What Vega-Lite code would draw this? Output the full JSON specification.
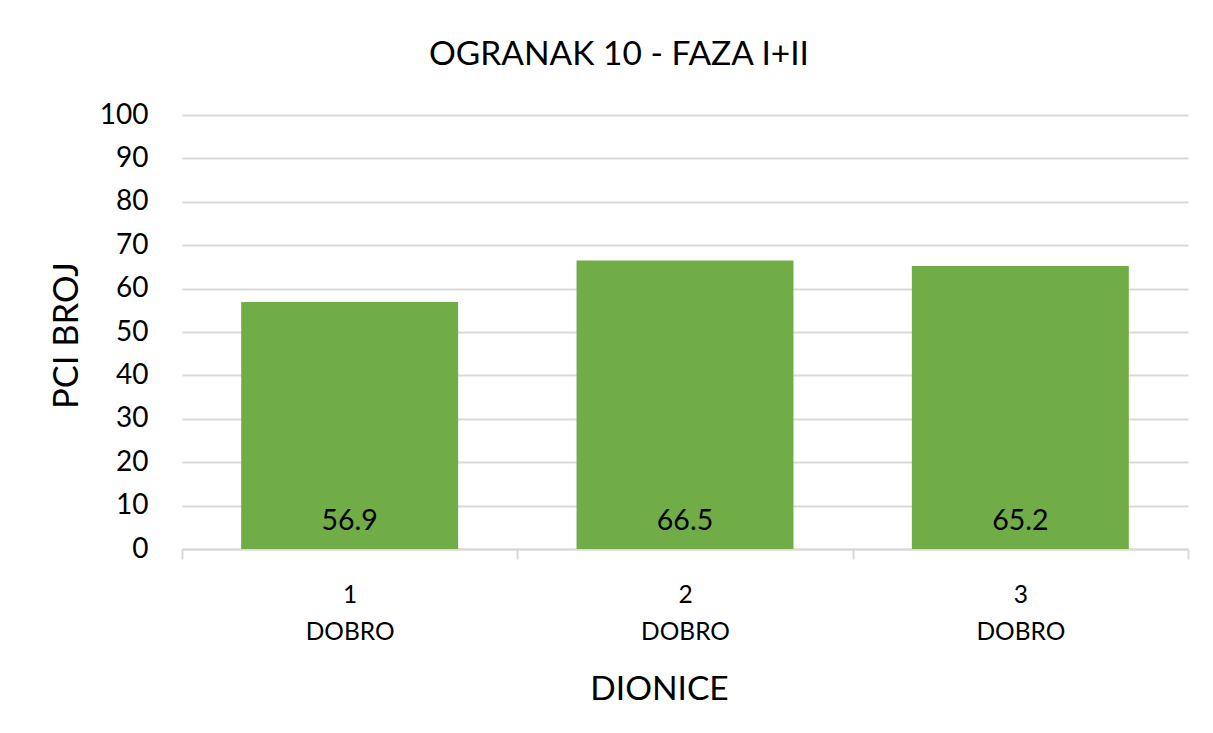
{
  "$schema": "https://vega.github.io/schema/vega-lite/v6.json",
  "autosize": "none",
  "width": 1006,
  "height": 434,
  "padding": {"left": 182, "top": 115, "right": 25, "bottom": 184},
  "background": "white",
  "config": {
    "font": "Lato",
    "view": {"stroke": null}
  },
  "title": {
    "text": "OGRANAK 10 - FAZA I+II",
    "font": "Lato",
    "fontSize": 33.5,
    "fontWeight": "normal",
    "color": "#000000",
    "frame": "bounds",
    "anchor": "middle",
    "baseline": "alphabetic",
    "offset": 3
  },
  "data": {
    "values": [
      {"dionica": "1|DOBRO", "pci": 56.9},
      {"dionica": "2|DOBRO", "pci": 66.5},
      {"dionica": "3|DOBRO", "pci": 65.2}
    ]
  },
  "encoding": {
    "x": {
      "field": "dionica",
      "type": "nominal",
      "sort": null,
      "scale": {"paddingInner": 0, "paddingOuter": 0},
      "axis": {
        "title": "DIONICE",
        "titleFont": "Lato",
        "titleFontSize": 33.5,
        "titleFontWeight": "normal",
        "titleColor": "#000000",
        "titleBaseline": "alphabetic",
        "titleX": 477,
        "titleY": 150,
        "labelExpr": "split(datum.label, '|')",
        "labelAngle": 0,
        "labelFont": "Lato",
        "labelFontSize": 24.5,
        "labelColor": "#000000",
        "labelLineHeight": 37,
        "labelPadding": 24,
        "tickBand": "extent",
        "tickColor": "#D9D9D9",
        "tickWidth": 2,
        "tickSize": 10,
        "domainColor": "#D9D9D9",
        "domainWidth": 2,
        "grid": false
      }
    }
  },
  "layer": [
    {
      "mark": {"type": "bar", "color": "#70AD47", "width": {"band": 0.647}},
      "encoding": {
        "y": {
          "field": "pci",
          "type": "quantitative",
          "scale": {"domain": [0, 100]},
          "axis": {
            "title": "PCI BROJ",
            "titleFont": "Lato",
            "titleFontSize": 34.5,
            "titleFontWeight": "normal",
            "titleColor": "#000000",
            "titleBaseline": "alphabetic",
            "titleAngle": -90,
            "titleX": -105,
            "titleY": 220,
            "values": [0, 10, 20, 30, 40, 50, 60, 70, 80, 90, 100],
            "labelFont": "Lato",
            "labelFontSize": 28,
            "labelColor": "#000000",
            "labelPadding": 34,
            "domain": false,
            "ticks": false,
            "grid": true,
            "gridColor": "#D9D9D9",
            "gridWidth": 2
          }
        }
      }
    },
    {
      "mark": {"type": "text", "baseline": "alphabetic", "dy": -19, "fontSize": 28.5, "font": "Lato", "color": "#000000"},
      "encoding": {
        "y": {"datum": 0, "type": "quantitative"},
        "text": {"field": "pci", "type": "quantitative", "format": ".1f"}
      }
    }
  ]
}
